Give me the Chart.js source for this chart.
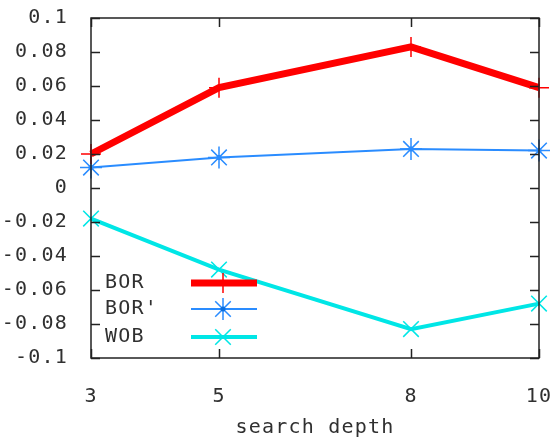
<!DOCTYPE html>
<html><head><meta charset="utf-8">
<script src="https://cdn.jsdelivr.net/npm/chart.js@4/dist/chart.umd.min.js"></script>
<style>html,body{margin:0;padding:0;background:#fff}#wrap{width:552px;height:437px}</style>
</head><body><div id="wrap"><canvas id="c" width="552" height="437"></canvas></div>
<script>
const depths = [3, 5, 8, 10];
const xTicks = [3, 5, 8, 10];
const borValues = [0.020, 0.059, 0.083, 0.059];
const borPrimeValues = [0.012, 0.018, 0.023, 0.022];
const wobValues = [-0.018, -0.048, -0.083, -0.068];
const seriesNames = ["BOR", "BOR'", "WOB"];
const xTitle = "search depth";

const FONT = "DejaVu Sans Mono";
const TXT = '#303030';
const pts = a => depths.map((d, i) => ({x: d, y: a[i]}));

const series = [
  {label: seriesNames[0], data: pts(borValues), borderColor: '#ff0000', backgroundColor: '#ff0000', clip: false,
   borderWidth: 7, pointStyle: 'cross', pointRadius: 10, pointBorderWidth: 1.5, pointBorderColor: '#ff0000'},
  {label: seriesNames[1], data: pts(borPrimeValues), borderColor: '#2a8cff', backgroundColor: '#2a8cff', clip: false,
   borderWidth: 2, pointStyle: 'star', pointRadius: 11, pointBorderWidth: 1.5, pointBorderColor: '#2a8cff'},
  {label: seriesNames[2], data: pts(wobValues), borderColor: '#00e6e6', backgroundColor: '#00e6e6', clip: false,
   borderWidth: 4, pointStyle: 'crossRot', pointRadius: 11, pointBorderWidth: 1.5, pointBorderColor: '#00e6e6'}
];
const dots = {label: 'dots', data: pts(borPrimeValues), showLine: false, pointStyle: 'circle', pointRadius: 2.5, clip: false,
  pointBackgroundColor: '#0a6fe0', pointBorderWidth: 0, borderWidth: 0};

const spacingPlugin = {
  id: 'spacing',
  beforeDraw(chart) { chart.ctx.letterSpacing = '1.2px'; }
};

const framePlugin = {
  id: 'frame',
  afterDatasetsDraw(chart) {
    const ctx = chart.ctx, a = chart.chartArea;
    const xs = chart.scales.x, ys = chart.scales.y;
    ctx.save();
    ctx.strokeStyle = '#222';
    ctx.lineWidth = 1.5;
    ctx.beginPath();
    ys.ticks.forEach(t => {
      const y = Math.round(ys.getPixelForValue(t.value)) + 0.5;
      ctx.moveTo(a.left, y); ctx.lineTo(a.left + 9, y);
      ctx.moveTo(a.right, y); ctx.lineTo(a.right - 9, y);
    });
    xs.ticks.forEach(t => {
      const x = Math.round(xs.getPixelForValue(t.value)) + 0.5;
      ctx.moveTo(x, a.bottom); ctx.lineTo(x, a.bottom - 9);
      ctx.moveTo(x, a.top); ctx.lineTo(x, a.top + 9);
    });
    ctx.stroke();
    ctx.strokeRect(a.left, a.top, a.right - a.left, a.bottom - a.top);
    // legend
    const rows = [283, 309, 337];
    ctx.font = '20px "' + FONT + '"';
    ctx.textBaseline = 'middle';
    ctx.textAlign = 'left';
    series.forEach((ds, i) => {
      const y = rows[i];
      ctx.fillStyle = TXT;
      ctx.fillText(ds.label, 105, y);
      ctx.strokeStyle = ds.borderColor;
      ctx.lineWidth = ds.borderWidth;
      ctx.beginPath(); ctx.moveTo(191, y); ctx.lineTo(257, y); ctx.stroke();
      ctx.lineWidth = ds.pointBorderWidth;
      Chart.helpers.drawPoint(ctx, {pointStyle: ds.pointStyle, radius: ds.pointRadius, borderWidth: ds.pointBorderWidth, rotation: 0}, 223, y);
      if (i === 1) { ctx.fillStyle = '#0a6fe0'; ctx.beginPath(); ctx.arc(223, y, 2.5, 0, Math.PI * 2); ctx.fill(); }
    });
    ctx.restore();
  }
};

new Chart(document.getElementById('c'), {
  type: 'line',
  data: {datasets: [...series, dots]},
  options: {
    responsive: false, animation: false,
    layout: {padding: {left: 0, right: 13, top: 18, bottom: 0}},
    plugins: {legend: {display: false}, tooltip: {enabled: false}},
    scales: {
      x: {type: 'linear', min: 3, max: 10,
        afterBuildTicks: s => { s.ticks = xTicks.map(v => ({value: v})); },
        afterFit: s => { s.height = 79; s.paddingLeft = 0; s.paddingRight = 0; },
        grid: {display: false}, border: {display: false},
        ticks: {color: TXT, font: {family: FONT, size: 20}, padding: 19, maxRotation: 0, autoSkip: false},
        title: {display: true, text: xTitle, color: TXT, font: {family: FONT, size: 20}, padding: {top: 0, bottom: -3}}
      },
      y: {min: -0.1, max: 0.1,
        afterFit: s => { s.width = 91; s.paddingTop = 0; s.paddingBottom = 0; },
        grid: {display: false}, border: {display: false},
        ticks: {stepSize: 0.02, color: TXT, font: {family: FONT, size: 20}, padding: 15,
          callback: v => { const r = Math.round(v * 100) / 100; return r === 0 ? '0' : String(r); }}
      }
    }
  },
  plugins: [spacingPlugin, framePlugin]
});
</script></body></html>
